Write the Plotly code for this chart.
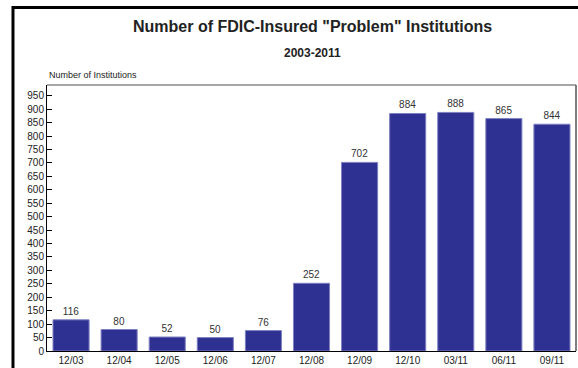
import plotly.graph_objects as go

categories = ["12/03", "12/04", "12/05", "12/06", "12/07", "12/08", "12/09", "12/10", "03/11", "06/11", "09/11"]
values = [116, 80, 52, 50, 76, 252, 702, 884, 888, 865, 844]
y_ticks = list(range(0, 951, 50))

fig = go.Figure()
fig.add_trace(go.Bar(
    x=categories, y=values,
    marker=dict(color="#2E3192", line=dict(color="#7E80C0", width=1)),
    text=[str(v) for v in values], textposition="outside",
    textfont=dict(family="Liberation Sans, Arial", size=10, color="#333333"),
    cliponaxis=False,
))

fig.update_layout(
    width=578, height=368,
    margin=dict(l=47, r=2, t=85, b=15),
    paper_bgcolor="white", plot_bgcolor="white",
    showlegend=False, bargap=0.25,
    font=dict(family="Liberation Sans, Arial", size=10, color="#222222"),
    xaxis=dict(type="category", showline=True, linecolor="black", linewidth=1,
               ticks="", showgrid=False, tickfont=dict(size=10, color="#222222")),
    yaxis=dict(range=[0, 990], tickvals=y_ticks, showline=True, linecolor="black", linewidth=1,
               ticks="inside", ticklen=5, tickcolor="black", showgrid=False, zeroline=False,
               tickfont=dict(size=10, color="#222222")),
    shapes=[
        dict(type="line", xref="paper", yref="paper", x0=0, x1=1, y0=1, y1=1,
             line=dict(color="#888888", width=1.5)),
        dict(type="line", xref="paper", yref="paper", x0=1, x1=1, y0=0, y1=1,
             line=dict(color="#555555", width=1.5)),
        dict(type="path", xref="paper", yref="paper",
             path="M -0.0643,-0.1 L -0.0643,1.291 L 1.1,1.291",
             line=dict(color="black", width=3)),
    ],
    annotations=[
        dict(text="<b>Number of FDIC-Insured \"Problem\" Institutions</b>", xref="paper", yref="paper",
             x=0.502, y=1.22, showarrow=False, xanchor="center", yanchor="middle",
             font=dict(size=16, color="#222222")),
        dict(text="<b>2003-2011</b>", xref="paper", yref="paper",
             x=0.502, y=1.119, showarrow=False, xanchor="center", yanchor="middle",
             font=dict(size=12, color="#222222")),
        dict(text="Number of Institutions", xref="paper", yref="paper",
             x=0, y=1.037, showarrow=False, xanchor="left", yanchor="middle",
             font=dict(size=9, color="#222222")),
    ],
)

fig.write_html("out.html")
